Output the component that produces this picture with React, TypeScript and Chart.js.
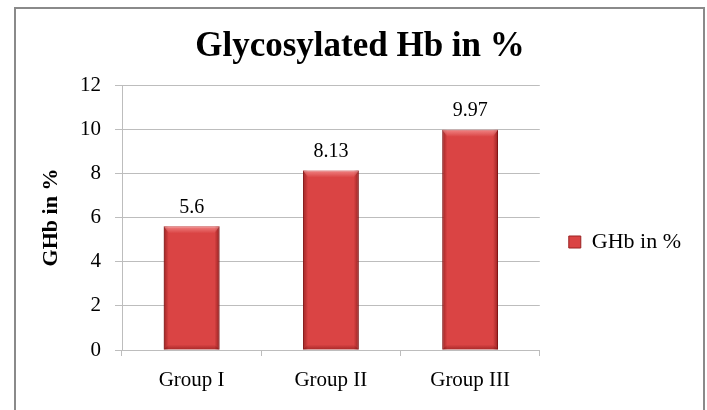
import React, { useEffect, useRef } from "react";
import { Chart, registerables } from "chart.js";

Chart.register(...registerables);

const categories = ["Group I", "Group II", "Group III"];
const seriesName = "GHb in %";
const ghbValues = [5.6, 8.13, 9.97];
const valueLabels = ["5.6", "8.13", "9.97"];
const chartTitle = "Glycosylated Hb in %";
const yAxisTitle = "GHb in %";
const yMin = 0;
const yMax = 12;
const yStep = 2;

const SERIF = "'Liberation Serif', 'Times New Roman', serif";

const framePlugin = {
  id: "frame",
  beforeDraw(chart: any) {
    const ctx = chart.ctx;
    ctx.save();
    ctx.fillStyle = "#ffffff";
    ctx.fillRect(0, 0, chart.width, chart.height);
    ctx.strokeStyle = "#8a8a8a";
    ctx.lineWidth = 2;
    ctx.strokeRect(15, 8, 689, 430);
    ctx.restore();
  },
};

// Center the title over the framed chart box and place the legend like the original.
const layoutTweakPlugin = {
  id: "layoutTweak",
  afterLayout(chart: any) {
    if (chart.titleBlock) {
      chart.titleBlock.left = 14;
      chart.titleBlock.right = 706;
    }
    if (chart.legend) {
      chart.legend.top += 33;
      chart.legend.bottom += 33;
    }
  },
};

const bevelPlugin = {
  id: "bevel",
  afterDatasetsDraw(chart: any) {
    const ctx = chart.ctx;
    const meta = chart.getDatasetMeta(0);
    ctx.save();
    meta.data.forEach((bar: any, i: number) => {
      const w = bar.width;
      const left = bar.x - w / 2;
      const right = bar.x + w / 2;
      const top = bar.y;
      const bottom = bar.base;
      const e = 5;
      let g = ctx.createLinearGradient(left, 0, left + e, 0);
      g.addColorStop(0, "rgba(110,10,10,0.55)");
      g.addColorStop(1, "rgba(110,10,10,0)");
      ctx.fillStyle = g;
      ctx.fillRect(left, top, e, bottom - top);
      g = ctx.createLinearGradient(right - e, 0, right, 0);
      g.addColorStop(0, "rgba(110,10,10,0)");
      g.addColorStop(1, "rgba(110,10,10,0.6)");
      ctx.fillStyle = g;
      ctx.fillRect(right - e, top, e, bottom - top);
      g = ctx.createLinearGradient(0, top, 0, top + e + 2);
      g.addColorStop(0, "rgba(255,175,175,0.6)");
      g.addColorStop(1, "rgba(255,175,175,0)");
      ctx.fillStyle = g;
      ctx.beginPath();
      ctx.moveTo(left, top);
      ctx.lineTo(right, top);
      ctx.lineTo(right - e, top + e + 2);
      ctx.lineTo(left + e, top + e + 2);
      ctx.closePath();
      ctx.fill();
      g = ctx.createLinearGradient(0, bottom - e, 0, bottom);
      g.addColorStop(0, "rgba(110,10,10,0)");
      g.addColorStop(1, "rgba(110,10,10,0.45)");
      ctx.fillStyle = g;
      ctx.beginPath();
      ctx.moveTo(left + e, bottom - e);
      ctx.lineTo(right - e, bottom - e);
      ctx.lineTo(right, bottom);
      ctx.lineTo(left, bottom);
      ctx.closePath();
      ctx.fill();
      ctx.fillStyle = "#000000";
      ctx.font = `20px ${SERIF}`;
      ctx.textAlign = "center";
      ctx.textBaseline = "middle";
      ctx.fillText(valueLabels[i], bar.x, top - 19);
    });
    ctx.restore();
  },
};

export default function App() {
  const canvasRef = useRef<HTMLCanvasElement | null>(null);

  useEffect(() => {
    const canvas = canvasRef.current;
    if (!canvas) return;
    const chart = new Chart(canvas, {
      type: "bar",
      data: {
        labels: categories,
        datasets: [
          {
            label: seriesName,
            data: ghbValues,
            backgroundColor: "#DA4444",
            borderColor: "#9a2222",
            borderWidth: 1,
            categoryPercentage: 1,
            barPercentage: 0.4,
          },
        ],
      },
      options: {
        responsive: false,
        animation: false,
        devicePixelRatio: 1,
        layout: { padding: { left: 15, right: 16, top: 8, bottom: 0 } },
        plugins: {
          title: {
            display: true,
            text: chartTitle,
            color: "#000000",
            font: { family: SERIF, size: 35, weight: "bold" },
            padding: { top: 18, bottom: 17 },
          },
          legend: {
            display: true,
            position: "right",
            labels: {
              color: "#000000",
              font: { family: SERIF, size: 22 },
              boxWidth: 12,
              boxHeight: 12,
              padding: 29,
            },
          },
          tooltip: { enabled: false },
        },
        scales: {
          x: {
            grid: {
              display: true,
              drawOnChartArea: false,
              drawTicks: true,
              tickLength: 6,
              color: "#bdbdbd",
              offset: true,
            },
            border: { display: true, color: "#bdbdbd" },
            ticks: {
              color: "#000000",
              font: { family: SERIF, size: 21 },
              padding: 12,
            },
            afterFit(scale: any) {
              scale.height = 60;
            },
          },
          y: {
            min: yMin,
            max: yMax,
            ticks: {
              stepSize: yStep,
              color: "#000000",
              font: { family: SERIF, size: 21 },
              padding: 14,
            },
            grid: {
              color: "#bdbdbd",
              drawTicks: true,
              tickLength: 7,
            },
            border: { display: true, color: "#bdbdbd" },
            title: {
              display: true,
              text: yAxisTitle,
              color: "#000000",
              font: { family: SERIF, size: 22, weight: "bold" },
              padding: { top: 23, bottom: 0 },
            },
            afterFit(scale: any) {
              scale.width = 107;
            },
          },
        },
      },
      plugins: [framePlugin, layoutTweakPlugin, bevelPlugin],
    });
    return () => chart.destroy();
  }, []);

  return (
    <div style={{ position: "absolute", left: 0, top: 0, width: 707, height: 410 }}>
      <canvas ref={canvasRef} width={707} height={410} />
    </div>
  );
}
